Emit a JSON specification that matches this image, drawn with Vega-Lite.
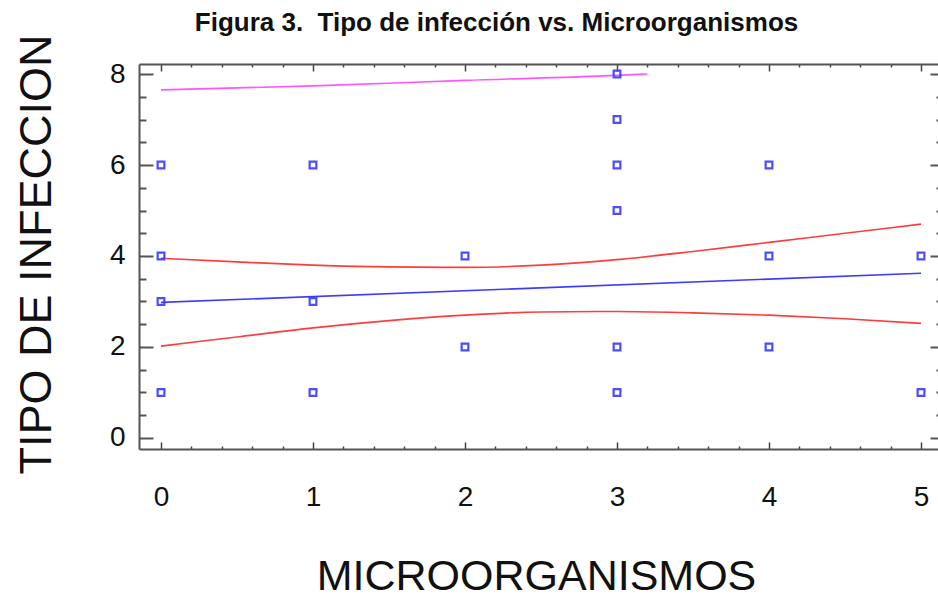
{
  "$schema": "https://vega.github.io/schema/vega-lite/v6.json",
  "autosize": "none",
  "width": 801,
  "height": 385,
  "padding": {"left": 139, "top": 64, "right": 0, "bottom": 156},
  "background": "white",
  "config": {"view": {"stroke": null}, "font": "Liberation Sans"},
  "title": {
    "text": "Figura 3.\u00a0 Tipo de infección vs. Microorganismos",
    "font": "Liberation Sans",
    "fontWeight": "bold",
    "fontSize": 26,
    "color": "#111",
    "anchor": "middle",
    "baseline": "alphabetic",
    "offset": -23,
    "dx": -43
  },
  "datasets": {
    "points": [
      {"x": 0, "y": 6}, {"x": 0, "y": 4}, {"x": 0, "y": 3}, {"x": 0, "y": 1},
      {"x": 1, "y": 6}, {"x": 1, "y": 3}, {"x": 1, "y": 1},
      {"x": 2, "y": 4}, {"x": 2, "y": 2},
      {"x": 3, "y": 8}, {"x": 3, "y": 7}, {"x": 3, "y": 6}, {"x": 3, "y": 5}, {"x": 3, "y": 2}, {"x": 3, "y": 1},
      {"x": 4, "y": 6}, {"x": 4, "y": 4}, {"x": 4, "y": 2},
      {"x": 5, "y": 4}, {"x": 5, "y": 1}
    ],
    "lines": [
      {"s": "fit", "x": 0, "y": 2.98}, {"s": "fit", "x": 5, "y": 3.62},
      {"s": "upper", "x": 0, "y": 3.95}, {"s": "upper", "x": 0.5, "y": 3.87}, {"s": "upper", "x": 1, "y": 3.8},
      {"s": "upper", "x": 1.5, "y": 3.76}, {"s": "upper", "x": 2, "y": 3.75}, {"s": "upper", "x": 2.5, "y": 3.8},
      {"s": "upper", "x": 3, "y": 3.92}, {"s": "upper", "x": 3.5, "y": 4.1}, {"s": "upper", "x": 4, "y": 4.3},
      {"s": "upper", "x": 4.5, "y": 4.5}, {"s": "upper", "x": 5, "y": 4.7},
      {"s": "lower", "x": 0, "y": 2.02}, {"s": "lower", "x": 0.5, "y": 2.22}, {"s": "lower", "x": 1, "y": 2.42},
      {"s": "lower", "x": 1.5, "y": 2.58}, {"s": "lower", "x": 2, "y": 2.7}, {"s": "lower", "x": 2.5, "y": 2.77},
      {"s": "lower", "x": 3, "y": 2.78}, {"s": "lower", "x": 3.5, "y": 2.75}, {"s": "lower", "x": 4, "y": 2.7},
      {"s": "lower", "x": 4.5, "y": 2.62}, {"s": "lower", "x": 5, "y": 2.52},
      {"s": "pred", "x": 0, "y": 7.65}, {"s": "pred", "x": 1, "y": 7.74}, {"s": "pred", "x": 2, "y": 7.86},
      {"s": "pred", "x": 3, "y": 7.97}, {"s": "pred", "x": 3.2, "y": 8.0}
    ]
  },
  "layer": [
    {
      "data": {"name": "lines"},
      "mark": {"type": "line", "strokeWidth": 1.6, "interpolate": "monotone"},
      "encoding": {
        "x": {
          "field": "x", "type": "quantitative",
          "scale": {"domain": [-0.1447, 5.125], "nice": false, "zero": false},
          "axis": {
            "orient": "top", "title": null, "labels": false, "grid": false,
            "values": [0,0.2,0.4,0.6,0.8,1,1.2,1.4,1.6,1.8,2,2.2,2.4,2.6,2.8,3,3.2,3.4,3.6,3.8,4,4.2,4.4,4.6,4.8,5],
            "domainColor": "#555", "domainWidth": 2, "tickColor": "#444", "tickWidth": 1.5,
            "tickSize": {"condition": {"test": "abs(datum.value - round(datum.value)) < 0.001", "value": -7}, "value": -3}
          }
        },
        "y": {
          "field": "y", "type": "quantitative",
          "scale": {"domain": [-0.242, 8.22], "nice": false, "zero": false},
          "axis": {
            "orient": "right", "title": null, "labels": false, "grid": false,
            "values": [0,0.5,1,1.5,2,2.5,3,3.5,4,4.5,5,5.5,6,6.5,7,7.5,8],
            "domainColor": "#555", "domainWidth": 2, "tickColor": "#555", "tickWidth": 2,
            "tickSize": {"condition": {"test": "abs(datum.value/2 - round(datum.value/2)) < 0.001", "value": -10}, "value": -4}
          }
        },
        "color": {
          "field": "s", "type": "nominal", "legend": null,
          "scale": {"domain": ["fit", "upper", "lower", "pred"], "range": ["#3c3cff", "#ff3c3c", "#ff3c3c", "#ff55ff"]}
        }
      }
    },
    {
      "data": {"name": "points"},
      "mark": {"type": "point", "shape": "square", "filled": false, "size": 45, "strokeWidth": 2.2, "color": "#3a3aff", "opacity": 0.9},
      "encoding": {
        "x": {
          "field": "x", "type": "quantitative",
          "axis": {
            "orient": "bottom", "title": "MICROORGANISMOS", "grid": false,
            "values": [0,0.2,0.4,0.6,0.8,1,1.2,1.4,1.6,1.8,2,2.2,2.4,2.6,2.8,3,3.2,3.4,3.6,3.8,4,4.2,4.4,4.6,4.8,5],
            "labelExpr": "abs(datum.value - round(datum.value)) < 0.001 ? format(datum.value, 'd') : ''",
            "labelFontSize": 28, "labelColor": "#111", "labelFont": "Liberation Sans",
            "labelPadding": 41, "labelFlush": false, "labelOverlap": false, "labelBaseline": "top",
            "domainColor": "#555", "domainWidth": 2, "tickColor": "#444", "tickWidth": 1.5,
            "tickSize": {"condition": {"test": "abs(datum.value - round(datum.value)) < 0.001", "value": -7}, "value": -3},
            "titleFontSize": 43, "titleFontWeight": "normal", "titleColor": "#111", "titleFont": "Liberation Sans",
            "titleX": 397, "titleY": 140, "titleBaseline": "alphabetic", "titleAlign": "center"
          }
        },
        "y": {
          "field": "y", "type": "quantitative",
          "axis": {
            "orient": "left", "title": "TIPO DE INFECCION", "grid": false,
            "values": [0,0.5,1,1.5,2,2.5,3,3.5,4,4.5,5,5.5,6,6.5,7,7.5,8],
            "labelExpr": "abs(datum.value/2 - round(datum.value/2)) < 0.001 ? format(datum.value, 'd') : ''",
            "labelFontSize": 28, "labelColor": "#111", "labelFont": "Liberation Sans",
            "labelPadding": 28, "labelFlush": false, "labelOverlap": false,
            "domainColor": "#555", "domainWidth": 2, "tickColor": "#555", "tickWidth": 2,
            "tickSize": {"condition": {"test": "abs(datum.value/2 - round(datum.value/2)) < 0.001", "value": -14}, "value": -7},
            "titleFontSize": 45, "titleFontWeight": "normal", "titleColor": "#111", "titleFont": "Liberation Sans",
            "titleX": -89, "titleY": 190, "titleAngle": -90, "titleBaseline": "alphabetic", "titleAlign": "center"
          }
        }
      }
    }
  ],
  "resolve": {"axis": {"x": "independent", "y": "independent"}}
}
